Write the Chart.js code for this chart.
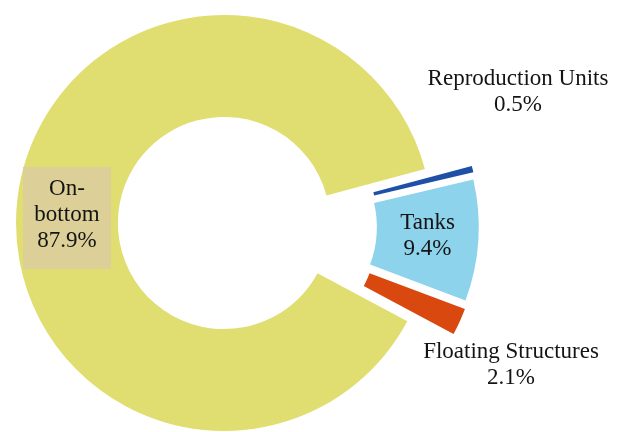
<!DOCTYPE html>
<html><head><meta charset="utf-8">
<script src="https://cdn.jsdelivr.net/npm/chart.js@4"></script>
<style>html,body{margin:0;padding:0;background:#fff;} #wrap{width:618px;height:432px;position:relative;}</style>
</head><body><div id="wrap"><canvas id="c" width="618" height="432"></canvas></div>
<script>
const categories = ['On-bottom', 'Reproduction Units', 'Tanks', 'Floating Structures'];
const shares = [87.9, 0.5, 9.4, 2.1];
const labelLines = [['On-', 'bottom', '87.9%'], ['Reproduction Units', '0.5%'], ['Tanks', '9.4%'], ['Floating Structures', '2.1%']];

const colors = ['#E0DE70', '#1F50A8', '#8DD3EB', '#D9480F'];
const explodeDist = [0, 47, 47, 48];
const explodeBlend = 0.5;
const labelPlace = [
  {mode: 'ring', angle: 180, dy: -8, box: {w: 88, h: 102, dy: 3, color: '#DCCF98'}},
  {mode: 'fixed', x: 518, y: 92},
  {mode: 'centroid', dy: -1},
  {mode: 'fixed', x: 511, y: 365}
];

// translate exploded slices by a precomputed shift vector
const baseArcDraw = Chart.ArcElement.prototype.draw;
Chart.ArcElement.prototype.draw = function(ctx) {
  const s = this.$shift;
  if (!s) return baseArcDraw.call(this, ctx);
  ctx.save();
  ctx.translate(s.dx, s.dy);
  baseArcDraw.call(this, ctx);
  ctx.restore();
};

const explodePlugin = {
  id: 'explodeSlices',
  beforeDatasetsDraw(chart) {
    const arcs = chart.getDatasetMeta(0).data;
    const ex = arcs.filter((a, i) => explodeDist[i] > 0);
    const gStart = Math.min(...ex.map(a => a.startAngle));
    const gEnd = Math.max(...ex.map(a => a.endAngle));
    const gMid = (gStart + gEnd) / 2;
    arcs.forEach((a, i) => {
      const d = explodeDist[i];
      if (!d) { a.$shift = null; return; }
      const mid = (a.startAngle + a.endAngle) / 2;
      const ang = mid + explodeBlend * (gMid - mid);
      a.$shift = {dx: d * Math.cos(ang), dy: d * Math.sin(ang)};
    });
  }
};

const labelPlugin = {
  id: 'sliceLabels',
  afterDatasetsDraw(chart) {
    const ctx = chart.ctx;
    const meta = chart.getDatasetMeta(0);
    const lh = 26;
    ctx.save();
    ctx.font = '23px "Liberation Serif", "Times New Roman", serif';
    ctx.textAlign = 'center';
    ctx.textBaseline = 'middle';
    meta.data.forEach((arc, i) => {
      const p = labelPlace[i];
      let x, y;
      if (p.mode === 'fixed') { x = p.x; y = p.y; }
      else if (p.mode === 'ring') {
        const r = (arc.innerRadius + arc.outerRadius) / 2;
        const a = p.angle * Math.PI / 180;
        x = arc.x + r * Math.cos(a); y = arc.y + r * Math.sin(a) + (p.dy || 0);
      } else {
        const half = (arc.startAngle + arc.endAngle) / 2;
        const r = (arc.innerRadius + arc.outerRadius) / 2;
        const s = arc.$shift || {dx: 0, dy: 0};
        x = arc.x + s.dx + r * Math.cos(half); y = arc.y + s.dy + r * Math.sin(half) + (p.dy || 0);
      }
      const lines = labelLines[i];
      if (p.box) {
        ctx.fillStyle = p.box.color;
        ctx.fillRect(x - p.box.w / 2, y - p.box.h / 2 + (p.box.dy || 0), p.box.w, p.box.h);
      }
      ctx.fillStyle = '#141414';
      const y0 = y - (lines.length - 1) * lh / 2;
      lines.forEach((s, k) => ctx.fillText(s, x, y0 + k * lh));
    });
    ctx.restore();
  }
};

new Chart(document.getElementById('c'), {
  type: 'doughnut',
  data: {
    labels: categories,
    datasets: [{
      data: shares,
      backgroundColor: colors,
      borderWidth: 0
    }]
  },
  options: {
    responsive: false,
    animation: false,
    devicePixelRatio: 1,
    rotation: 118.2,
    radius: 208,
    cutout: '51%',
    layout: {padding: {left: 0, right: 170, top: 14, bottom: 0}},
    plugins: {legend: {display: false}, tooltip: {enabled: false}}
  },
  plugins: [explodePlugin, labelPlugin]
});
</script>
</body></html>
